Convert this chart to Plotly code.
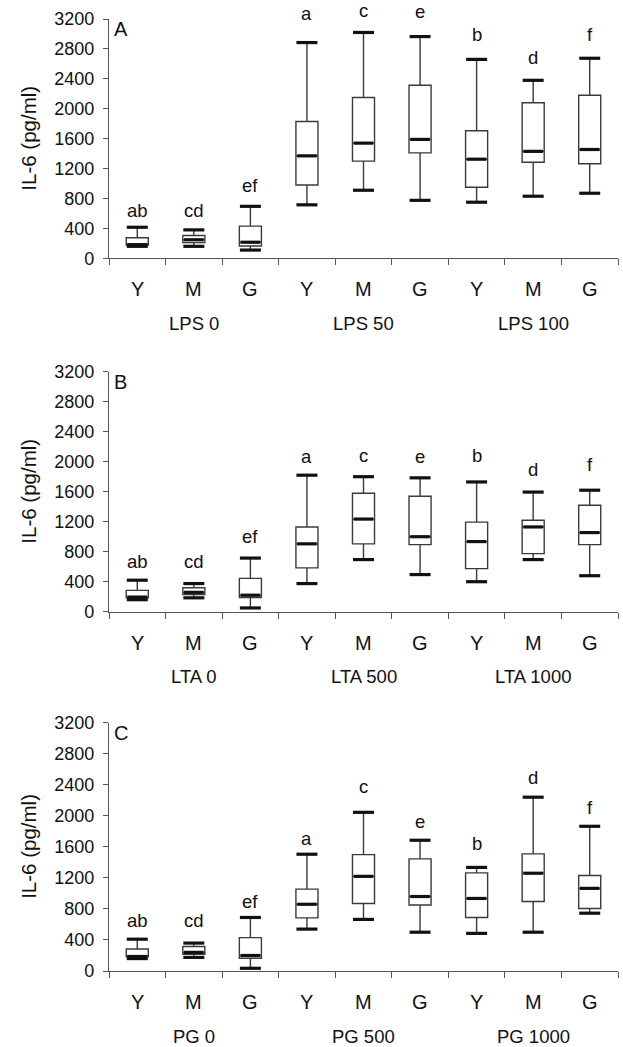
import plotly.graph_objects as go

# ---------------- data ----------------
x_labels = ["Y", "M", "G", "Y", "M", "G", "Y", "M", "G"]
panel_names = ["A", "B", "C"]
group_labels_a = ["LPS 0", "LPS 50", "LPS 100"]
group_labels_b = ["LTA 0", "LTA 500", "LTA 1000"]
group_labels_c = ["PG 0", "PG 500", "PG 1000"]
letters = ["ab", "cd", "ef", "a", "c", "e", "b", "d", "f"]
y_ticks = [0, 400, 800, 1200, 1600, 2000, 2400, 2800, 3200]
y_max = 3200

a_low = [160, 160, 110, 715, 910, 775, 750, 830, 870]
a_q1 = [178, 210, 165, 980, 1300, 1410, 950, 1285, 1265]
a_med = [182, 248, 215, 1370, 1540, 1590, 1325, 1430, 1455]
a_q3 = [275, 305, 430, 1830, 2150, 2315, 1705, 2080, 2180]
a_high = [415, 380, 695, 2885, 3020, 2965, 2660, 2380, 2675]
a_letter_y = [640, 640, 980, 3275, 3315, 3300, 2995, 2690, 2995]

b_low = [160, 185, 50, 375, 695, 495, 400, 695, 480]
b_q1 = [185, 230, 190, 585, 905, 895, 575, 775, 895]
b_med = [195, 258, 220, 905, 1235, 1000, 935, 1130, 1055]
b_q3 = [285, 320, 445, 1130, 1580, 1540, 1195, 1220, 1420]
b_high = [420, 375, 715, 1820, 1800, 1785, 1730, 1595, 1620]
b_letter_y = [665, 665, 1000, 2065, 2080, 2065, 2085, 1890, 1965]

c_low = [160, 175, 35, 540, 665, 500, 485, 500, 745]
c_q1 = [183, 215, 165, 685, 870, 850, 690, 895, 805]
c_med = [187, 240, 200, 860, 1220, 960, 935, 1260, 1065]
c_q3 = [283, 315, 430, 1055, 1500, 1445, 1265, 1510, 1230]
c_high = [410, 360, 690, 1505, 2045, 1685, 1335, 2240, 1865]
c_letter_y = [645, 645, 895, 1710, 2375, 1925, 1645, 2490, 2105]

# ---------------- figure ----------------
W, H = 623, 1047
FONT = "Liberation Sans, Arial, sans-serif"
TXT = "#111111"
AX = "#555555"

panels = [
    dict(name="A", low=a_low, q1=a_q1, med=a_med, q3=a_q3, high=a_high, ly=a_letter_y,
         groups=group_labels_a, top=19.0, bottom=258.3),
    dict(name="B", low=b_low, q1=b_q1, med=b_med, q3=b_q3, high=b_high, ly=b_letter_y,
         groups=group_labels_b, top=371.7, bottom=611.7),
    dict(name="C", low=c_low, q1=c_q1, med=c_med, q3=c_q3, high=c_high, ly=c_letter_y,
         groups=group_labels_c, top=722.7, bottom=971.0),
]

x_left, x_right = 109.0, 618.0
xpos = list(range(len(x_labels)))

fig = go.Figure()
annotations = []
layout_axes = {}

for i, p in enumerate(panels):
    suffix = "" if i == 0 else str(i + 1)
    xa, ya = "x" + suffix, "y" + suffix
    # box bodies + whiskers
    fig.add_trace(go.Box(
        x=xpos, q1=p["q1"], median=p["med"], q3=p["q3"],
        lowerfence=p["low"], upperfence=p["high"],
        width=0.39, whiskerwidth=0, fillcolor="white",
        line=dict(color="#3a3a3a", width=1.4),
        boxpoints=False, showlegend=False, hoverinfo="skip",
        xaxis=xa, yaxis=ya,
    ))
    # whisker caps (thick)
    fig.add_trace(go.Scatter(
        x=xpos + xpos, y=p["low"] + p["high"], mode="markers",
        marker=dict(symbol="line-ew", size=15, line=dict(color="#111111", width=3.2)),
        showlegend=False, hoverinfo="skip", xaxis=xa, yaxis=ya, cliponaxis=False,
    ))
    # medians (thick, short)
    fig.add_trace(go.Scatter(
        x=xpos, y=p["med"], mode="markers",
        marker=dict(symbol="line-ew", size=14, line=dict(color="#111111", width=3.2)),
        showlegend=False, hoverinfo="skip", xaxis=xa, yaxis=ya, cliponaxis=False,
    ))

    ydom = [1 - p["bottom"] / H, 1 - p["top"] / H]
    layout_axes["xaxis" + suffix] = dict(
        domain=[x_left / W, x_right / W], anchor=ya, range=[-0.5, len(x_labels) - 0.5],
        tickmode="array", tickvals=[k - 0.5 for k in range(len(x_labels) + 1)],
        ticktext=[""] * (len(x_labels) + 1), ticks="outside", ticklen=6, tickwidth=1.3,
        tickcolor=AX, showline=True, linecolor=AX, linewidth=1.3,
        showgrid=False, zeroline=False, fixedrange=True, automargin=False,
    )
    layout_axes["yaxis" + suffix] = dict(
        domain=ydom, anchor=xa, range=[0, y_max],
        tickmode="array", tickvals=y_ticks, ticktext=[str(v) for v in y_ticks],
        ticks="outside", ticklen=5, tickwidth=1.3, tickcolor=AX,
        showline=True, linecolor=AX, linewidth=1.3, ticklabelstandoff=5,
        tickfont=dict(family=FONT, size=18, color=TXT),
        showgrid=False, zeroline=False, fixedrange=True, automargin=False,
    )

    # panel letter
    annotations.append(dict(
        text=p["name"], xref=xa + " domain", yref=ya + " domain", x=0, y=1,
        xanchor="left", yanchor="top", xshift=3, yshift=3, showarrow=False,
        font=dict(family=FONT, size=20, color=TXT),
    ))
    # y-axis title
    annotations.append(dict(
        text="IL-6 (pg/ml)", xref="paper", yref=ya + " domain", x=29 / W, y=0.5,
        xanchor="center", yanchor="middle", textangle=-90, showarrow=False,
        font=dict(family=FONT, size=20.5, color=TXT),
    ))
    # category labels
    for k, lab in enumerate(x_labels):
        annotations.append(dict(
            text=lab, xref=xa, yref=ya + " domain", x=k, y=0,
            xanchor="center", yanchor="middle", yshift=-31, showarrow=False,
            font=dict(family=FONT, size=20, color=TXT),
        ))
    # group labels (centered on middle category of each group)
    for g, glab in enumerate(p["groups"]):
        annotations.append(dict(
            text=glab, xref=xa, yref=ya + " domain", x=3 * g + 1, y=0,
            xanchor="center", yanchor="middle", yshift=-65, showarrow=False,
            font=dict(family=FONT, size=18.5, color=TXT),
        ))
    # significance letters (domain refs so letters above the axis top stay visible)
    for k, (lt, ly) in enumerate(zip(letters, p["ly"])):
        annotations.append(dict(
            text=lt, xref=xa, yref=ya + " domain", x=k, y=ly / y_max,
            xanchor="center", yanchor="middle", showarrow=False, borderpad=0,
            font=dict(family=FONT, size=18.5, color=TXT),
        ))

fig.update_layout(
    template="none",
    width=W, height=H, autosize=False,
    margin=dict(l=0, r=0, t=0, b=0, pad=0, autoexpand=False),
    paper_bgcolor="white", plot_bgcolor="white",
    annotations=annotations, showlegend=False,
    font=dict(family=FONT, color=TXT),
    **layout_axes,
)

fig.write_html(
    "out.html",
    config={"displayModeBar": False, "responsive": False},
    post_script="document.body.style.margin='0';document.body.style.padding='0';",
)
